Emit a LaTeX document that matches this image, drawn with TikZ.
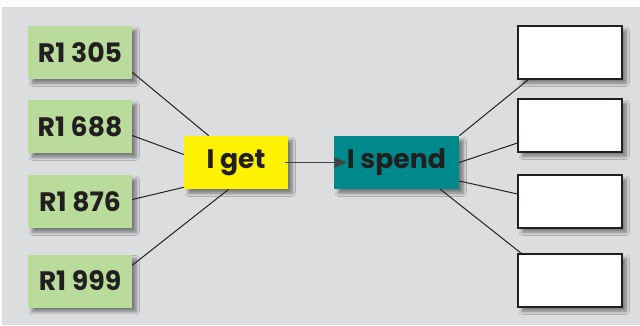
\documentclass[tikz,border=0pt]{standalone}
\usepackage{fontspec}
\setmainfont{Poppins}
\usepackage{xcolor}
\usetikzlibrary{arrows.meta,positioning,calc,shadows.blur}

\definecolor{panelgray}{HTML}{DCDDDF}
\definecolor{amountgreen}{HTML}{B9DB9C}
\definecolor{getyellow}{HTML}{FFF200}
\definecolor{spendteal}{HTML}{00898A}
\definecolor{inkblack}{HTML}{231F20}

\begin{document}
\begin{tikzpicture}[
    x=0.025cm, y=-0.025cm,
    box/.style={rectangle, minimum width=2.6cm, minimum height=1.325cm, inner sep=0pt,
        align=center, font=\fontsize{19}{22}\selectfont\bfseries, text=inkblack,
        blur shadow={shadow xshift=3pt, shadow yshift=-3pt, shadow blur steps=8, shadow opacity=45}},
    amount/.style={box, fill=amountgreen},
    blank/.style={box, fill=white, draw=inkblack, line width=0.8pt},
    link/.style={inkblack, line width=0.7pt},
    arrow/.style={-{Stealth[length=3.2mm, width=2.6mm, inset=0.4mm]}, inkblack!85, line width=0.7pt}
]
\useasboundingbox (0,0) rectangle (640,325);
\fill[white] (0,0) rectangle (640,325);
\fill[panelgray] (2,7) rectangle (640,325);

% Incomes
\node[amount] (g1) at (80,52.5) {R1 305};
\node[amount] (g2) at (80,126.5) {R1 688};
\node[amount] (g3) at (80,201.5) {R1 876};
\node[amount] (g4) at (80,281) {R1 999};

% Middle
\node[box, fill=getyellow, minimum width=2.6cm] (get) at (236,162.5) {I get};
\node[box, fill=spendteal, minimum width=3.125cm] (spend) at (396.5,162.5) {I spend};

% Spendings (empty)
\node[blank] (w1) at (570,52.5) {};
\node[blank] (w2) at (570,125.5) {};
\node[blank] (w3) at (570,201.5) {};
\node[blank] (w4) at (570,280.5) {};

% Connectors
\draw[link] ($(g1.south east)+(0,-7)$) -- ($(get.north west)+(25,0)$);
\draw[link] ($(g2.east)+(0,9)$) -- ($(get.west)+(0,-8)$);
\draw[link] ($(g3.east)+(0,-2)$) -- ($(get.south west)+(0,-2)$);
\draw[link] ($(g4.north east)+(0,11)$) -- ($(get.south west)+(45,0)$);

\draw[link] (spend.north east) -- ($(w1.south west)+(11,0)$);
\draw[link] (spend.east) -- ($(w2.west)+(0,17.5)$);
\draw[link] ($(spend.east)+(0,18.5)$) -- ($(w3.west)+(0,-7.5)$);
\draw[link] ($(spend.south east)+(-19,0)$) -- ($(w4.north west)+(4,0)$);

\draw[arrow] ($(get.east)+(-3,0)$) -- ($(spend.west)+(13,0)$);
\end{tikzpicture}
\end{document}
